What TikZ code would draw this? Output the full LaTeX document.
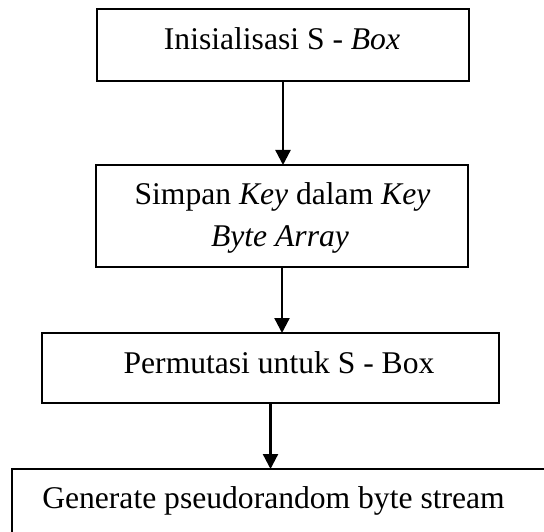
\documentclass[tikz,border=0pt]{standalone}
\usepackage{fontspec}
\setmainfont{Liberation Serif}
\usetikzlibrary{arrows.meta}
\begin{document}
\begin{tikzpicture}[x=1pt,y=-1pt,
  box/.style={draw=black,line width=1.8pt,inner sep=0pt,outer sep=0pt,fill=none},
  lbl/.style={inner sep=0pt,anchor=base,font=\fontsize{31.6}{42}\selectfont},
  flow/.style={line width=2.3pt,-{Triangle[length=15pt,width=15pt]}}]
\useasboundingbox (0,0) rectangle (544,532);
\clip (0,0) rectangle (544,532);
\node[box,minimum width=372pt,minimum height=72pt] (b1) at (283,45) {};
\node[box,minimum width=372pt,minimum height=102pt] (b2) at (282,216) {};
\node[box,minimum width=457pt,minimum height=70pt] (b3) at (270.5,368) {};
\node[box,minimum width=560pt,minimum height=100pt] (b4) at (292,519) {};
\node[lbl] (t1) at (282,50) {Inisialisasi S - \textit{Box}};
\node[lbl] (t2a) at (282.5,205) {Simpan \textit{Key} dalam \textit{Key}};
\node[lbl] (t2b) at (280,247) {\textit{Byte Array}};
\node[lbl] (t3) at (279,373) {Permutasi untuk S - Box};
\node[lbl] (t4) at (273.5,508) {Generate pseudorandom byte stream};
\draw[flow] (b1.south) -- (b1.south |- b2.north);
\draw[flow] (b2.south) -- (b2.south |- b3.north);
\draw[flow] (b3.south) -- (b3.south |- b4.north);
\end{tikzpicture}
\end{document}
